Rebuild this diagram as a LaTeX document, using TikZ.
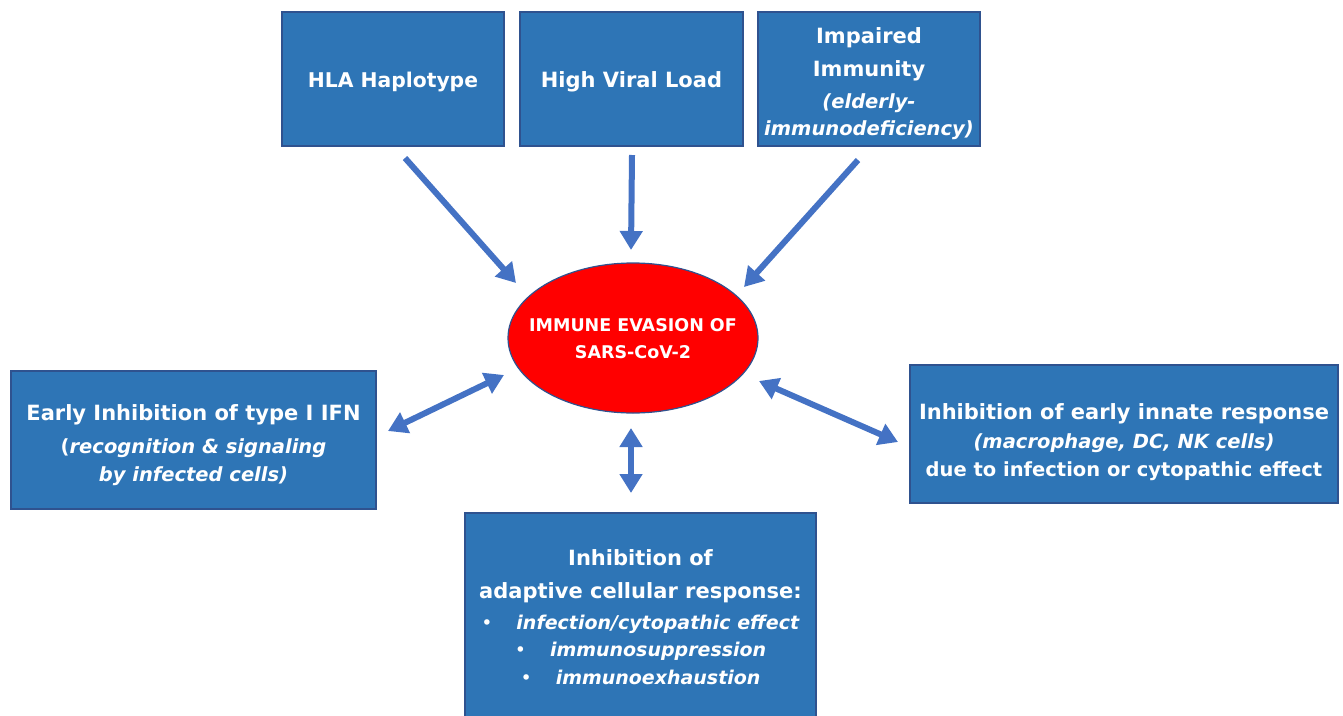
\documentclass[tikz,border=0pt]{standalone}
\usepackage{fontspec}
\setmainfont{DejaVu Sans}
\usetikzlibrary{arrows.meta,shapes.geometric}
\definecolor{boxfill}{HTML}{2E75B6}
\definecolor{boxline}{HTML}{2F528F}
\definecolor{arrowc}{HTML}{4472C4}
\newcommand{\smallit}{\itshape\fontsize{19.5}{27}\selectfont}
\newcommand{\smallup}{\fontsize{19.5}{27}\selectfont}
\newcommand{\bulletit}{\fontsize{19}{27}\selectfont}
\tikzset{
  box/.style={draw=boxline, line width=1.2pt, fill=boxfill, inner sep=0pt},
  txt/.style={text=white, align=center, inner sep=0pt, font=\bfseries\fontsize{21}{32}\selectfont},
  evasion/.style={ellipse, draw=boxline, line width=1.2pt, fill=red,
    minimum width=250pt, minimum height=150pt, inner sep=0pt},
  evtxt/.style={text=white, align=center, inner sep=0pt, font=\bfseries\fontsize{17.5}{29}\selectfont},
  arr/.style={draw=arrowc, line width=6pt, -{Triangle[width=22pt,length=19pt]}},
  darr/.style={draw=arrowc, line width=6pt, {Triangle[width=22pt,length=19pt]}-{Triangle[width=22pt,length=19pt]}}
}
\begin{document}
\begin{tikzpicture}[x=1pt,y=-1pt]
\useasboundingbox (0,0) rectangle (1343,715);
% boxes
\node[box, minimum width=222pt, minimum height=134pt] (hla) at (393,79) {};
\node[box, minimum width=223pt, minimum height=134pt] (hvl) at (631.5,79) {};
\node[box, minimum width=222pt, minimum height=134pt] (imp) at (869,79) {};
\node[evasion] (ev) at (633,338) {};
\node[box, minimum width=365pt, minimum height=138pt] (ifn) at (193.5,440) {};
\node[box, minimum width=428pt, minimum height=138pt] (inn) at (1124,434) {};
\node[box, minimum width=351pt, minimum height=204pt] (ada) at (640.5,615) {};
% texts
\node[txt, font=\bfseries\fontsize{20.3}{32}\selectfont] (hlat) at (393,82) {HLA Haplotype};
\node[txt] (hvlt) at (631.5,82) {High Viral Load};
\node[txt] (impt) at (869,83.5)
  {Impaired\\[1pt]Immunity\\[0pt]{\smallit (elderly-}\\[-5pt]{\smallit immunodeficiency)}};
\node[evtxt] (evt) at (633,339) {IMMUNE EVASION OF\\[-2pt]SARS-CoV-2};
\node[txt] (ifnt) at (193.5,445)
  {Early Inhibition of type I IFN\\[1pt]{\smallup(\textit{recognition \& signaling}}\\[-4pt]{\smallit by infected cells)}};
\node[txt] (innt) at (1124,442)
  {Inhibition of early innate response\\[-3pt]{\smallit (macrophage, DC, NK cells)}\\[-4pt]{\smallup due to infection or cytopathic effect}};
\node[txt] (adat) at (640.5,617.5)
  {Inhibition of\\[1pt]adaptive cellular response:\\[-1pt]
   {\bulletit{\mdseries\textbullet}\hspace{24pt}\textit{infection/cytopathic effect}}\\[-5pt]
   {\bulletit{\mdseries\textbullet}\hspace{24pt}\textit{immunosuppression}}\\[-4pt]
   {\bulletit{\mdseries\textbullet}\hspace{24pt}\textit{immunoexhaustion}}};
% arrow end points
\coordinate (a1s) at (405,158);  \coordinate (a1e) at (516,283);
\coordinate (a2s) at (632,155);  \coordinate (a2e) at (631,250);
\coordinate (a3s) at (858,160);  \coordinate (a3e) at (744,287);
\coordinate (a4s) at (388,431);  \coordinate (a4e) at (504,375);
\coordinate (a5s) at (631,428);  \coordinate (a5e) at (631,493);
\coordinate (a6s) at (759,381);  \coordinate (a6e) at (898,442);
\draw[arr] (a1s) -- (a1e);
\draw[arr] (a2s) -- (a2e);
\draw[arr] (a3s) -- (a3e);
\draw[darr] (a4s) -- (a4e);
\draw[darr] (a5s) -- (a5e);
\draw[darr] (a6s) -- (a6e);
\end{tikzpicture}
\end{document}
